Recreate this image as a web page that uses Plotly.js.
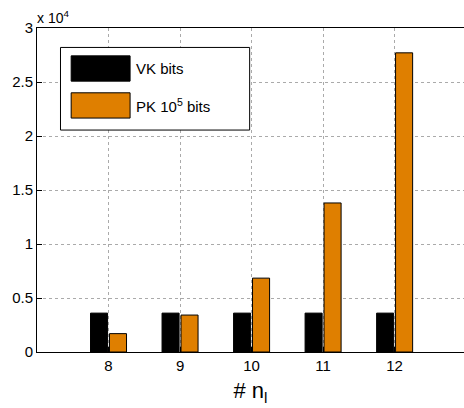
<!DOCTYPE html>
<html>
<head>
<meta charset="utf-8">
<script src="https://cdn.plot.ly/plotly-3.0.1.min.js"></script>
<style>html,body{margin:0;padding:0;overflow:hidden;background:#fff}</style>
</head>
<body>
<div id="chart" style="width:464px;height:408px"></div>
<script>
var categories = [8, 9, 10, 11, 12];
var vkBits = [3600, 3600, 3600, 3600, 3600];
var pkBits = [1700, 3420, 6840, 13800, 27700];
var yTickVals = [0, 5000, 10000, 15000, 20000, 25000, 30000];
var yTickText = ['0', '0.5', '1', '1.5', '2', '2.5', '3'];
var seriesNames = ['VK bits', 'PK 10<sup>5</sup> bits'];
var seriesColors = ['#000000', '#df7f00'];

var font = 'Liberation Sans, Arial, Helvetica, sans-serif';

var traces = [
  {type: 'bar', x: categories, y: vkBits, name: seriesNames[0],
   marker: {color: seriesColors[0], line: {color: '#000', width: 1}}},
  {type: 'bar', x: categories, y: pkBits, name: seriesNames[1],
   marker: {color: seriesColors[1], line: {color: '#000', width: 1}}}
];

var shapes = [
  {type: 'rect', xref: 'paper', yref: 'paper', x0: 0.055, x1: 0.498, y0: 0.685, y1: 0.94,
   line: {color: '#000', width: 1}, fillcolor: '#fff', layer: 'above'},
  {type: 'rect', xref: 'paper', yref: 'paper', x0: 0.08, x1: 0.218, y0: 0.836, y1: 0.914,
   line: {color: '#000', width: 1}, fillcolor: seriesColors[0], layer: 'above'},
  {type: 'rect', xref: 'paper', yref: 'paper', x0: 0.08, x1: 0.218, y0: 0.722, y1: 0.8,
   line: {color: '#000', width: 1}, fillcolor: seriesColors[1], layer: 'above'}
];
var annotations = [
  {xref: 'paper', yref: 'paper', x: 0.226, y: 0.875, xanchor: 'left', yanchor: 'middle',
   text: seriesNames[0], showarrow: false, font: {family: font, size: 15, color: '#000'}},
  {xref: 'paper', yref: 'paper', x: 0.226, y: 0.761, xanchor: 'left', yanchor: 'middle',
   text: seriesNames[1], showarrow: false, font: {family: font, size: 15, color: '#000'}},
  {xref: 'paper', yref: 'paper', x: -0.005, y: 1.0, xanchor: 'left', yanchor: 'bottom',
   text: 'x 10<sup>4</sup>', showarrow: false, font: {family: font, size: 14, color: '#000'}}
];

var layout = {
  width: 464, height: 408,
  margin: {l: 37, r: 0, t: 28, b: 56},
  paper_bgcolor: '#fff', plot_bgcolor: '#fff',
  barmode: 'group', bargap: 0.47, bargroupgap: 0.1,
  showlegend: false,
  font: {family: font, size: 15, color: '#000'},
  xaxis: {
    range: [7, 12.97], tickvals: categories, ticktext: categories.map(String),
    showline: true, linecolor: '#000', linewidth: 1, mirror: true,
    ticks: 'inside', ticklen: 5, tickcolor: '#000',
    showgrid: true, gridcolor: '#aaa', griddash: 'dot', gridwidth: 1,
    zeroline: false,
    tickfont: {family: font, size: 15, color: '#000'},
    title: {text: '# n<sub>l</sub>', font: {family: font, size: 22, color: '#000'}, standoff: 9}
  },
  yaxis: {
    range: [0, 30000], tickvals: yTickVals, ticktext: yTickText,
    showline: true, linecolor: '#000', linewidth: 1, mirror: false,
    ticks: 'inside', ticklen: 5, tickcolor: '#000',
    showgrid: true, gridcolor: '#aaa', griddash: 'dot', gridwidth: 1,
    zeroline: false,
    tickfont: {family: font, size: 15, color: '#000'}
  },
  shapes: shapes,
  annotations: annotations
};

Plotly.newPlot('chart', traces, layout, {displayModeBar: false, staticPlot: true});
</script>
</body>
</html>
